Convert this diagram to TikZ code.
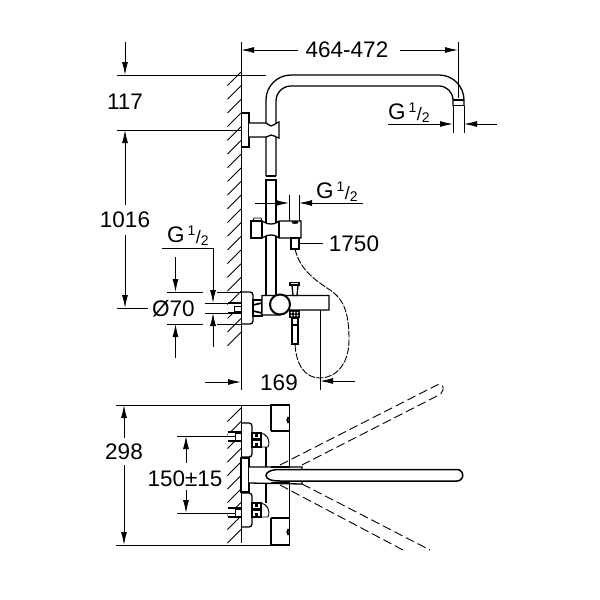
\documentclass[tikz,border=0pt]{standalone}
\usepackage{fontspec}
\setmainfont{Liberation Sans}
\usetikzlibrary{arrows.meta}
\newcommand{\gthread}{G\hspace{3pt}\raisebox{7pt}{\fontsize{14}{14}\selectfont 1}\hspace{0.5pt}\raisebox{-1pt}{\fontsize{18}{18}\selectfont /}\raisebox{-3pt}{\fontsize{14}{14}\selectfont 2}}
\tikzset{
  >={Latex[length=13pt,width=6pt]},
  dimline/.style={line width=0.9pt},
  part/.style={line width=1.3pt, fill=white},
  heavy/.style={line width=1.7pt},
  hidden/.style={line width=0.9pt, dash pattern=on 9pt off 4pt},
  dimtext/.style={inner sep=0pt, font=\fontsize{22.5}{22.5}\selectfont}
}
\begin{document}
\begin{tikzpicture}[x=1pt, y=-1pt]
    \useasboundingbox (0,0) rectangle (600,600);

    % Draw Hatching
    \foreach \y in {72,85.7,...,340}{
      \draw[dimline] (227.5,\y+13.5) -- (241,\y);
    }
    \foreach \y in {408,421.5,...,535}{
      \draw[dimline] (227.5,\y+13.5) -- (241,\y);
    }

    % Draw Shower Pipe
    \draw[part, fill=none] (266,176) -- (266,100) arc (180:270:25) -- (439,75) arc (270:360:25) -- (464,106);
    \draw[part, fill=none] (276,176) -- (276,101) arc (180:270:15) -- (439,86) arc (270:360:14) -- (453,106);
    \draw[heavy] (453,100) -- (464,100);
    \draw[heavy] (453,105.5) -- (464,105.5);
    \draw[part, fill=none] (266,176) -- (276,176);
    \draw[part] (266,180) rectangle (276,296);

    % Draw Wall Bracket
    \draw[part] (241,113) -- (249,113) -- (249,147) -- (241,147);
    \draw[part] (249,123) -- (266,123) .. controls (268,124) and (270,126) .. (271,126) .. controls (274,126) and (275,123) .. (279,122) -- (279,138) .. controls (275,137) and (274,135) .. (271,135) .. controls (270,135) and (268,137) .. (266,137) -- (249,137);

    % Draw Slider
    \draw[dimline, fill=white] (253,221) -- (254,218) -- (261,218) -- (262,221);
    \draw[part] (262,221) -- (251,221) -- (251,238) -- (262,238);
    \draw[part] (262,221) .. controls (265,222) and (266,224) .. (271,224) .. controls (276,224) and (277,222) .. (279,221) -- (301,221) -- (301,238) -- (279,238) .. controls (277,237) and (276,235) .. (271,235) .. controls (266,235) and (265,237) .. (262,238) -- cycle;
    \draw[fill=black] (295,222.5) ellipse (3 and 1.2);
    \draw[line width=1.6pt] (262,221) -- (262,238);
    \draw[line width=1.6pt] (279,221) -- (279,238);
    \draw[part] (291,238) rectangle (299,249);

    % Draw Hose
    \draw[dimline, dash pattern=on 7pt off 1.5pt] (295,249) .. controls (300,270) and (315,280) .. (330,290) .. controls (345,300) and (349,315) .. (349,340) .. controls (349,365) and (335,378) .. (320,378) .. controls (305,378) and (296,365) .. (295,344);

    % Draw Mixer
    \fill[white] (228,303) rectangle (241,313);
    \draw[part, fill=none] (228,303) -- (241,303);
    \draw[part, fill=none] (228,313) -- (241,313);
    \draw[dimline] (234,306) rectangle (241,311);
    \draw[part] (241,292) -- (250,292) arc (270:360:3) -- (253,321) arc (0:90:3) -- (241,324);
    \draw[part] (253,300) -- (262,300) -- (262,316) -- (253,316) -- cycle;
    \draw[heavy] (253,305) -- (262,303);
    \draw[heavy] (253,311) -- (262,313);
    \draw[part] (262,295.5) -- (329,295.5) -- (329,310) -- (287,310) -- (280,315) -- (262,315) -- cycle;
    \draw[part] (292,285) -- (293,295.5) -- (297,295.5) -- (298,285);
    \draw[heavy, fill=white] (290,282.5) rectangle (299,285);
    \draw[line width=2pt, fill=white] (280,304.5) circle (10);
    \fill[black] (289,310) rectangle (300,318);
    \foreach \x in {291.5,294.5,297.5}{
      \fill[white] (\x,312.5) circle (1);
      \fill[white] (\x,315.5) circle (1);
    }
    \draw[part] (292,318) rectangle (298,344);
    \draw[heavy] (292,325) -- (298,325);

    % Draw Wall Line
    \draw[line width=1pt] (241,42) -- (241,390);
    \draw[line width=1pt] (241,405) -- (241,543);

    % Draw Top Dimensions
    \draw[dimline] (241,75) -- (266,75);
    \draw[dimline] (117,75) -- (241,75);
    \draw[dimline] (117,130) -- (241,130);
    \draw[dimline] (117,308) -- (148,308);
    \draw[dimline] (458,42) -- (458,98);
    \draw[dimline] (453,106) -- (453,133);
    \draw[dimline] (464,106) -- (464,133);
    \draw[dimline] (289,195) -- (289,221);
    \draw[dimline] (299,195) -- (299,221);
    \draw[dimline] (320,310) -- (320,390);
    \draw[dimline] (167,292) -- (203,292);
    \draw[dimline] (217,292) -- (241,292);
    \draw[dimline] (167,324) -- (203,324);
    \draw[dimline] (217,324) -- (241,324);
    \draw[dimline] (205,303) -- (228,303);
    \draw[dimline] (205,313) -- (228,313);

    \node[dimtext] (lenarm) at (347,50) {464-472};
    \node[dimtext] (lenfirst) at (125,102) {117};
    \node[dimtext] (lenrail) at (125,220) {1016};
    \node[dimtext] (lenhose) at (354,244) {1750};
    \node[dimtext] (lenspout) at (279,383) {169};
    \node[dimtext, anchor=west] (diaflange) at (152,309) {Ø70};
    \node[dimtext, anchor=west] (gshower) at (388,113) {\gthread};
    \node[dimtext, anchor=west] (gslider) at (316,192) {\gthread};
    \node[dimtext, anchor=west] (gmixer) at (167,236) {\gthread};

    \draw[dimline, ->] (298,50) -- (241,50);
    \draw[dimline, ->] (400,50) -- (458,50);
    \draw[dimline, ->] (125,42) -- (125,75);
    \draw[dimline, ->] (125,205) -- (125,130);
    \draw[dimline, ->] (125,235) -- (125,308);
    \draw[dimline, ->] (388,124) -- (453,124);
    \draw[dimline, ->] (497,124) -- (464,124);
    \draw[dimline, ->] (255,203) -- (289,203);
    \draw[dimline, ->] (363,203) -- (299,203);
    \draw[dimline] (299,243) -- (323,243);
    \draw[dimline, ->] (175.5,257) -- (175.5,292);
    \draw[dimline, ->] (175.5,358) -- (175.5,324);
    \draw[dimline, ->] (162,248) -- (213,248) -- (213,303);
    \draw[dimline, ->] (213,347) -- (213,313);
    \draw[dimline, ->] (205,382) -- (241,382);
    \draw[dimline, ->] (355,381) -- (320,381);

    % Draw Swung Spouts
    \draw[hidden] (280,465) -- (437,385) .. controls (441,383) and (444,386) .. (443,390) .. controls (442.5,393) and (440,394.5) .. (436,396.5) -- (302,465);
    \draw[hidden] (280,485) -- (403,550);
    \draw[hidden] (302,484) -- (430,550);

    % Draw Mixer From Above
    \draw[heavy] (271,431) -- (271,405) -- (289.5,405) -- (289.5,545) -- (271,545) -- (271,518);
    \draw[heavy] (271,431) -- (289.5,431);
    \draw[heavy] (271,518) -- (289.5,518);
    \draw[line width=2pt] (288.5,417) .. controls (287,419) and (287,421) .. (288.5,423);
    \draw[line width=2pt] (288.5,529) .. controls (287,531) and (287,533) .. (288.5,535);
    \draw[part, fill=none] (266,447) -- (266,503);
    \foreach \y in {432,508}{
      \fill[white] (228,\y) rectangle (241,\y+9);
      \draw[part, fill=none] (228,\y) -- (241,\y);
      \draw[part, fill=none] (228,\y+9) -- (241,\y+9);
      \draw[dimline] (235,\y+1) rectangle (241,\y+8);
    }
    \draw[part] (241,423) -- (249,423) arc (270:360:3) -- (252,454) arc (0:90:3) -- (241,457);
    \draw[part] (241,493) -- (249,493) arc (270:360:3) -- (252,524) arc (0:90:3) -- (241,527);
    \draw[part] (241,458) rectangle (249,492);
    \draw[fill=black] (251,475) circle (1.4);
    \foreach \y in {433,503}{
      \draw[dimline] (261,\y) .. controls (266,\y+1) and (271,\y+6) .. (268,\y+14) -- (261,\y+14);
      \draw[part] (252,\y) rectangle (261,\y+14);
      \draw[line width=3pt] (256.5,\y) -- (256.5,\y+4);
      \draw[line width=3pt] (256.5,\y+10) -- (256.5,\y+14);
      \draw[line width=3pt] (252.5,\y+6) -- (260.5,\y+6);
    }
    \draw[line width=0.9pt] (241,405) -- (241,543);

    % Draw Spout From Above
    \draw[part] (249,467) -- (302,467) -- (302,484) -- (249,483);
    \draw[line width=1.5pt, fill=white] (302,469.5) -- (457,469.5) arc (270:450:5.75) -- (302,481) -- (280,481) .. controls (271,481) and (266,479) .. (266,475.5) .. controls (266,472) and (271,469.5) .. (280,469.5) -- cycle;
    \draw[line width=2.2pt] (271,467) -- (290,467);
    \draw[line width=2.2pt] (271,483) -- (290,483);

    % Draw Bottom Dimensions
    \draw[dimline] (116,405) -- (271,405);
    \draw[dimline] (116,545) -- (271,545);
    \draw[dimline] (177,436) -- (236,436);
    \draw[dimline] (177,513) -- (236,513);
    \node[dimtext] (lendepth) at (124,452) {298};
    \node[dimtext] (lenpitch) at (185,479) {150±15};
    \draw[dimline, ->] (124,438) -- (124,405);
    \draw[dimline, ->] (124,465) -- (124,545);
    \draw[dimline, ->] (186,463) -- (186,436);
    \draw[dimline, ->] (186,490) -- (186,513);
\end{tikzpicture}
\end{document}
